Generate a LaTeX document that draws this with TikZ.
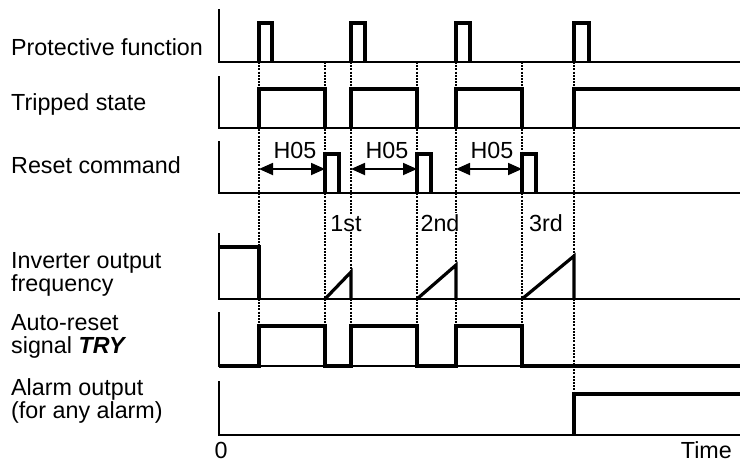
\documentclass[tikz,border=0pt]{standalone}
\usepackage{fontspec}
\setmainfont{Liberation Sans}
\usetikzlibrary{arrows.meta}
\begin{document}
\begin{tikzpicture}[x=1pt,y=-1pt,
  thinax/.style={line width=1.7pt},
  sig/.style={line width=3.2pt,line join=miter},
  guide/.style={line width=1.1pt,dash pattern=on 2pt off 1.2pt},
  span/.style={line width=1.8pt,{Triangle[length=14pt,width=12pt]}-{Triangle[length=14pt,width=12pt]}},
  lbl/.style={font=\fontsize{23.3}{23.5}\selectfont,inner sep=0pt,anchor=base west},
  cnt/.style={font=\fontsize{23.3}{23.5}\selectfont,inner sep=1pt,fill=white},
  hlbl/.style={font=\fontsize{23.3}{23.5}\selectfont,inner sep=0pt}]
\useasboundingbox (0,0) rectangle (740,464);
% guide lines
\foreach \t in {259,325,351,417,456,522}
  \draw[guide] (\t,62) -- (\t,326);
\draw[guide] (574,62) -- (574,394);
% axes
\foreach \top/\base in {9/62,76/128,141/193,233/299,312/366,381/435}
  \draw[thinax] (219,\top) -- (219,\base) -- (740,\base);
% protective function
\foreach \a/\b in {259/272,351/365,456/470,574/589}
  \draw[sig] (\a,62) -- (\a,23) -- (\b,23) -- (\b,62);
% tripped state
\foreach \a/\b in {259/325,351/417,456/522}
  \draw[sig] (\a,128) -- (\a,89) -- (\b,89) -- (\b,128);
\draw[sig] (574,128) -- (574,89) -- (740,89);
% reset command
\foreach \a/\b in {325/339,417/431,522/536}
  \draw[sig] (\a,193) -- (\a,154) -- (\b,154) -- (\b,193);
% H05 spans
\coordinate (h1a) at (259,169); \coordinate (h1b) at (325,169);
\coordinate (h2a) at (351,169); \coordinate (h2b) at (417,169);
\coordinate (h3a) at (456,169); \coordinate (h3b) at (522,169);
\draw[span] (h1a) -- (h1b);
\draw[span] (h2a) -- (h2b);
\draw[span] (h3a) -- (h3b);
\node[hlbl,anchor=base] (t1) at (295,158.5) {H05};
\node[hlbl,anchor=base] (t2) at (387,158.5) {H05};
\node[hlbl,anchor=base] (t3) at (492,158.5) {H05};
% ordinal labels
\node[cnt,anchor=base] (o1) at (346,231) {1st};
\node[cnt,anchor=base] (o2) at (440,231) {2nd};
\node[cnt,anchor=base] (o3) at (546,231) {3rd};
% inverter output frequency
\draw[sig] (219,247) -- (259,247) -- (259,299);
\draw[sig] (325,299) -- (351,272) -- (351,299);
\draw[sig] (417,299) -- (456,265) -- (456,299);
\draw[sig] (522,299) -- (574,256) -- (574,299);
% auto-reset signal TRY
\draw[sig] (219,366) -- (259,366) -- (259,326) -- (325,326) -- (325,366)
  -- (351,366) -- (351,326) -- (417,326) -- (417,366)
  -- (456,366) -- (456,326) -- (522,326) -- (522,366) -- (740,366);
% alarm output
\draw[sig] (574,435) -- (574,394) -- (740,394);
% labels
\node[lbl] (l1) at (11,55) {Protective function};
\node[lbl] (l2) at (11,110.5) {Tripped state};
\node[lbl] (l3) at (11,173.3) {Reset command};
\node[lbl] (l4a) at (11,268.4) {Inverter output};
\node[lbl] (l4b) at (11,291.8) {frequency};
\node[lbl] (l5a) at (11,330) {Auto-reset};
\node[lbl] (l5b) at (11,353.5) {signal \textbf{\textit{TRY}}};
\node[lbl] (l6a) at (11,395) {Alarm output};
\node[lbl] (l6b) at (11,418.5) {(for any alarm)};
\node[hlbl,anchor=base] (zero) at (221,458.5) {0};
\node[hlbl,anchor=base east] (time) at (732,458.5) {Time};
\end{tikzpicture}
\end{document}
